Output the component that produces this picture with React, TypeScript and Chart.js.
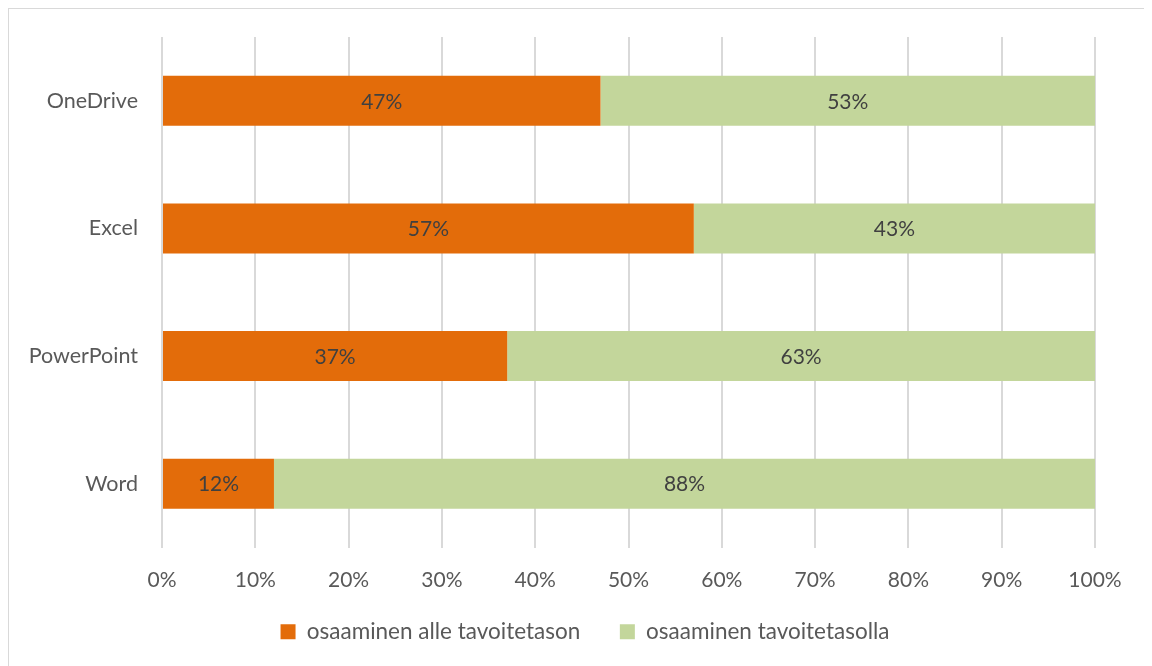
import React, { useEffect, useRef } from "react";
import { Chart, registerables } from "chart.js";

Chart.register(...registerables);

const categories = ["OneDrive", "Excel", "PowerPoint", "Word"];
const belowTarget = [47, 57, 37, 12];
const atTarget = [53, 43, 63, 88];
const seriesNames = ["osaaminen alle tavoitetason", "osaaminen tavoitetasolla"];
const xTicks = [0, 10, 20, 30, 40, 50, 60, 70, 80, 90, 100];

const FONT = "Lato, 'Open Sans', sans-serif";

const dataLabels = {
  id: "dataLabels",
  afterDatasetsDraw(chart: any) {
    const ctx = chart.ctx;
    ctx.save();
    ctx.font = `21px ${FONT}`;
    ctx.fillStyle = "#404040";
    ctx.textAlign = "center";
    ctx.textBaseline = "middle";
    chart.data.datasets.forEach((ds: any, di: number) => {
      const meta = chart.getDatasetMeta(di);
      meta.data.forEach((el: any, i: number) => {
        const x = (el.x + el.base) / 2;
        ctx.fillText(`${ds.data[i]}%`, x, el.y + 1);
      });
    });
    ctx.restore();
  },
};

const legendShift = {
  id: "legendShift",
  afterLayout(chart: any) {
    if (chart.legend) {
      chart.legend.left += 33;
      chart.legend.right += 33;
    }
  },
};

export default function App() {
  const ref = useRef<HTMLCanvasElement>(null);
  useEffect(() => {
    document.documentElement.style.overflow = "hidden";
    document.body.style.overflow = "hidden";
    const chart = new Chart(ref.current!, {
      type: "bar",
      data: {
        labels: categories,
        datasets: [
          {
            label: seriesNames[0],
            data: belowTarget,
            backgroundColor: "#E36C0A",
            categoryPercentage: 1,
            barPercentage: 0.392,
          },
          {
            label: seriesNames[1],
            data: atTarget,
            backgroundColor: "#C3D69B",
            categoryPercentage: 1,
            barPercentage: 0.392,
          },
        ],
      },
      options: {
        indexAxis: "y",
        responsive: false,
        animation: false,
        layout: { padding: { top: 28, right: 55, bottom: 16, left: 0 } },
        plugins: {
          legend: {
            position: "bottom",
            labels: {
              font: { family: FONT, size: 22.5 },
              color: "#595959",
              boxWidth: 15,
              boxHeight: 15,
              padding: 28,
              generateLabels(chart: any) {
                const items = Chart.defaults.plugins.legend.labels.generateLabels(chart);
                items.forEach((it: any, i: number) => {
                  if (i === 0) it.text = it.text + "  ";
                });
                return items;
              },
            },
          },
          tooltip: { enabled: false },
        },
        scales: {
          x: {
            stacked: true,
            min: 0,
            max: 100,
            afterBuildTicks(scale: any) {
              scale.ticks = xTicks.map((v) => ({ value: v }));
            },
            afterFit(scale: any) {
              scale.height = 45;
            },
            ticks: {
              callback: (v: any) => `${v}%`,
              font: { family: FONT, size: 21 },
              color: "#595959",
              padding: 20,
              maxRotation: 0,
            },
            grid: { color: "#d9d9d9", lineWidth: 2, drawTicks: false },
            border: { display: false },
          },
          y: {
            stacked: true,
            afterFit(scale: any) {
              scale.width = 153;
              scale.paddingTop = 0;
              scale.paddingBottom = 0;
            },
            ticks: {
              font: { family: FONT, size: 21.5 },
              color: "#595959",
              padding: 24,
            },
            grid: { display: false, drawTicks: false },
            border: { display: false },
          },
        },
      },
      plugins: [dataLabels, legendShift],
    });
    return () => chart.destroy();
  }, []);
  return (
    <div
      style={{
        width: 1141,
        height: 670,
        border: "1px solid #d9d9d9",
        background: "#fff",
      }}
    >
      <canvas ref={ref} width={1141} height={660} style={{ display: "block" }} />
    </div>
  );
}
